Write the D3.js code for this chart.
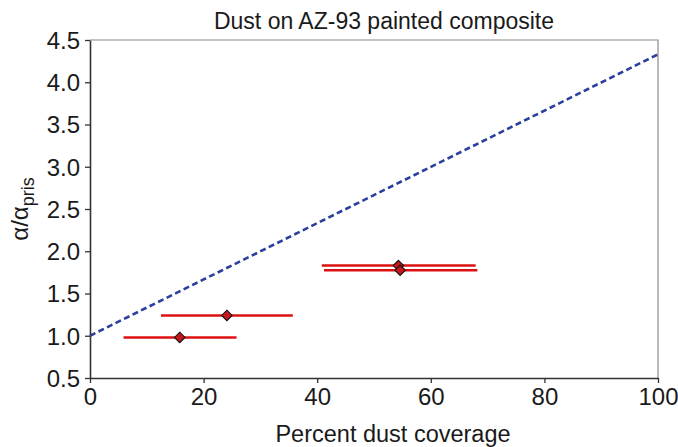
<!DOCTYPE html>
<html>
<head>
<meta charset="utf-8">
<script src="https://cdn.jsdelivr.net/npm/d3@7"></script>
<style>
  html, body { margin: 0; padding: 0; background: #fff; }
  svg { display: block; }
  text { font-family: "Liberation Sans", Arial, sans-serif; fill: #1a1a1a; }
</style>
</head>
<body>
<svg id="chart" width="678" height="447"></svg>
<script>
// ---- data ----
const coverage = [15.8, 24.1, 54.3, 54.6];          // percent dust coverage (x)
const ratio = [0.98, 1.24, 1.83, 1.775];           // alpha / alpha_pris (y)
const coverageLow = [5.9, 12.5, 40.8, 41.2];       // x error bar lower end
const coverageHigh = [25.8, 35.7, 67.9, 68.2];     // x error bar upper end
const fitX = [0, 100];
const fitY = [1.0, 4.33];
const xTicks = [0, 20, 40, 60, 80, 100];
const yTicks = [0.5, 1.0, 1.5, 2.0, 2.5, 3.0, 3.5, 4.0, 4.5];
const titleText = "Dust on AZ-93 painted composite";
const xLabelText = "Percent dust coverage";

// ---- layout ----
const svg = d3.select("#chart");
const pL = 90, pR = 658, pT = 40, pB = 378;

const x = d3.scaleLinear().domain([0, 100]).range([pL, pR]);
const y = d3.scaleLinear().domain([0.5, 4.5]).range([pB, pT]);

// top & right frame (grey)
svg.append("path")
  .attr("d", `M${pL},${pT}H${pR}V${pB}`)
  .attr("fill", "none").attr("stroke", "#8a8a8a").attr("stroke-width", 1.2);

// axes
const xAxis = svg.append("g").attr("transform", `translate(0,${pB})`)
  .call(d3.axisBottom(x).tickValues(xTicks).tickSize(5).tickPadding(5).tickSizeOuter(0));
const yAxis = svg.append("g").attr("transform", `translate(${pL},0)`)
  .call(d3.axisLeft(y).tickValues(yTicks).tickFormat(d3.format(".1f")).tickSize(5).tickPadding(5).tickSizeOuter(0));

[xAxis, yAxis].forEach(g => {
  g.select(".domain").attr("stroke", "#333").attr("stroke-width", 1.6);
  g.selectAll(".tick line").attr("stroke", "#333").attr("stroke-width", 1.3);
  g.selectAll(".tick text")
    .attr("font-family", "Liberation Sans, Arial, sans-serif")
    .attr("font-size", 24).attr("fill", "#1a1a1a");
});
yAxis.selectAll(".tick text").attr("dy", "0.35em");
xAxis.selectAll(".tick text").attr("dy", "0.71em");

// dashed fit line
svg.append("path")
  .datum(fitX.map((d, i) => [d, fitY[i]]))
  .attr("d", d3.line().x(d => x(d[0])).y(d => y(d[1])))
  .attr("fill", "none")
  .attr("stroke", "#2b3f9e")
  .attr("stroke-width", 2.6)
  .attr("stroke-dasharray", "6,3.5");

// error bars
svg.append("g").selectAll("line")
  .data(coverage.map((d, i) => i))
  .join("line")
  .attr("x1", i => x(coverageLow[i]))
  .attr("x2", i => x(coverageHigh[i]))
  .attr("y1", i => y(ratio[i]))
  .attr("y2", i => y(ratio[i]))
  .attr("stroke", "#dd1111")
  .attr("stroke-width", 2.5);

// diamond markers
const diamond = d3.symbol().type(d3.symbolDiamond2).size(70);
svg.append("g").selectAll("path")
  .data(coverage.map((d, i) => i))
  .join("path")
  .attr("d", diamond)
  .attr("transform", i => `translate(${x(coverage[i])},${y(ratio[i])})`)
  .attr("fill", "#c8161d")
  .attr("stroke", "#111")
  .attr("stroke-width", 1.1);

// title
svg.append("text")
  .attr("x", 384).attr("y", 29)
  .attr("text-anchor", "middle")
  .attr("font-size", 23)
  .text(titleText);

// x label
svg.append("text")
  .attr("x", 393).attr("y", 442)
  .attr("text-anchor", "middle")
  .attr("font-size", 23.5)
  .text(xLabelText);

// y label: α/α_pris
const yl = svg.append("text")
  .attr("transform", `translate(28,${(pT + pB) / 2}) rotate(-90)`)
  .attr("text-anchor", "middle")
  .attr("font-size", 24);
yl.append("tspan").text("α/α");
yl.append("tspan").attr("font-size", 18).attr("dy", 6).text("pris");
</script>
</body>
</html>
